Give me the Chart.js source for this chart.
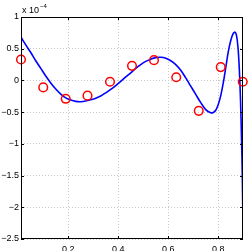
<!DOCTYPE html>
<html><head><meta charset="utf-8">
<script src="https://cdn.jsdelivr.net/npm/chart.js@4"></script>
<style>html,body{margin:0;padding:0;background:#fff;}#wrap{width:249px;height:251px;}</style>
</head><body><div id="wrap"><canvas id="c" width="249" height="251"></canvas></div>
<script>
// data (y values in units of 1e-4)
const pointX = [0.011, 0.100, 0.190, 0.277, 0.367, 0.455, 0.543, 0.632, 0.722, 0.810, 0.898];
const pointY = [0.33, -0.11, -0.29, -0.24, -0.02, 0.23, 0.32, 0.05, -0.48, 0.21, -0.02];
const curveX = [0.011,0.03,0.05,0.07,0.09,0.11,0.13,0.15,0.17,0.19,0.21,0.23,0.25,0.27,0.29,0.31,0.33,0.35,0.37,0.39,0.41,0.43,0.45,0.47,0.49,0.51,0.53,0.55,0.57,0.59,0.61,0.63,0.65,0.67,0.69,0.71,0.73,0.75,0.77,0.78,0.79,0.80,0.81,0.82,0.83,0.84,0.85,0.86,0.867,0.873,0.879,0.884,0.889,0.893,0.896,0.898];
const curveY = [0.68,0.56,0.44,0.31,0.19,0.07,-0.04,-0.135,-0.215,-0.275,-0.31,-0.33,-0.335,-0.325,-0.305,-0.28,-0.245,-0.195,-0.14,-0.08,-0.015,0.055,0.12,0.19,0.25,0.30,0.335,0.36,0.365,0.35,0.31,0.25,0.16,0.04,-0.09,-0.22,-0.35,-0.46,-0.51,-0.505,-0.47,-0.38,-0.24,-0.04,0.20,0.45,0.63,0.74,0.76,0.71,0.52,0.20,-0.30,-0.90,-1.45,-2.00];
const xTicks = [0.2, 0.4, 0.6, 0.8];
const yTicks = [1, 0.5, 0, -0.5, -1, -1.5, -2, -2.5];
const exponentLabel = ['x 10', '\u22124'];

const fmt = v => (v < 0 ? '\u2212' : '') + String(Math.abs(v));
const FONT = {family: '"Liberation Sans", Arial, sans-serif', size: 9};

const boxPlugin = {
  id: 'box',
  afterDraw(chart) {
    const {ctx, chartArea: a} = chart;
    ctx.save();
    ctx.strokeStyle = '#000';
    ctx.lineWidth = 1;
    ctx.strokeRect(Math.round(a.left) + 0.5, Math.round(a.top) + 0.5, Math.round(a.right - a.left) - 1, Math.round(a.bottom - a.top) - 1);
    const xs = chart.scales.x, ys = chart.scales.y;
    ctx.beginPath();
    xTicks.forEach(t => { const px = Math.round(xs.getPixelForValue(t)) + 0.5;
      ctx.moveTo(px, a.bottom); ctx.lineTo(px, a.bottom - 3); ctx.moveTo(px, a.top); ctx.lineTo(px, a.top + 3); });
    yTicks.forEach(t => { const py = Math.round(ys.getPixelForValue(t)) + 0.5;
      ctx.moveTo(a.left, py); ctx.lineTo(a.left + 3, py); ctx.moveTo(a.right, py); ctx.lineTo(a.right - 3, py); });
    ctx.stroke();
    ctx.fillStyle = '#000';
    ctx.font = '9px "Liberation Sans", Arial, sans-serif';
    ctx.textBaseline = 'alphabetic';
    ctx.fillText(exponentLabel[0], a.left + 1, a.top - 4);
    const w = ctx.measureText(exponentLabel[0]).width;
    ctx.font = '6px "Liberation Sans", Arial, sans-serif';
    ctx.fillText(exponentLabel[1], a.left + 2 + w, a.top - 9);
    ctx.restore();
  }
};

new Chart(document.getElementById('c'), {
  type: 'scatter',
  data: {
    datasets: [
      {
        type: 'line',
        data: curveX.map((x, i) => ({x, y: curveY[i]})),
        borderColor: '#0000ff',
        borderWidth: 1.6,
        pointRadius: 0,
        tension: 0.35,
        fill: false,
        order: 2
      },
      {
        data: pointX.map((x, i) => ({x, y: pointY[i]})),
        pointStyle: 'circle',
        pointRadius: 4.3,
        pointBorderWidth: 1.5,
        pointBorderColor: '#ff0000',
        pointBackgroundColor: 'rgba(0,0,0,0)',
        clip: false,
        order: 1
      }
    ]
  },
  options: {
    responsive: false,
    animation: false,
    events: [],
    layout: {padding: {top: 17, right: 6, left: 0, bottom: 0}},
    plugins: {legend: {display: false}, tooltip: {enabled: false}},
    scales: {
      x: {
        type: 'linear', min: 0.011, max: 0.899,
        afterBuildTicks: s => { s.ticks = xTicks.map(v => ({value: v})); },
        afterFit: s => { s.height = 12; },
        ticks: {callback: v => fmt(v), font: FONT, color: '#000', padding: 5, maxRotation: 0, autoSkip: false},
        grid: {color: '#c8c8c8', lineWidth: 1, drawTicks: false},
        border: {display: false, dash: [1, 2]}
      },
      y: {
        type: 'linear', min: -2.5, max: 1,
        afterBuildTicks: s => { s.ticks = yTicks.map(v => ({value: v})); },
        afterFit: s => { s.width = 21; },
        ticks: {callback: v => fmt(v), font: FONT, color: '#000', padding: 2, autoSkip: false},
        grid: {color: '#c8c8c8', lineWidth: 1, drawTicks: false},
        border: {display: false, dash: [1, 2]}
      }
    }
  },
  plugins: [boxPlugin]
});
</script></body></html>
